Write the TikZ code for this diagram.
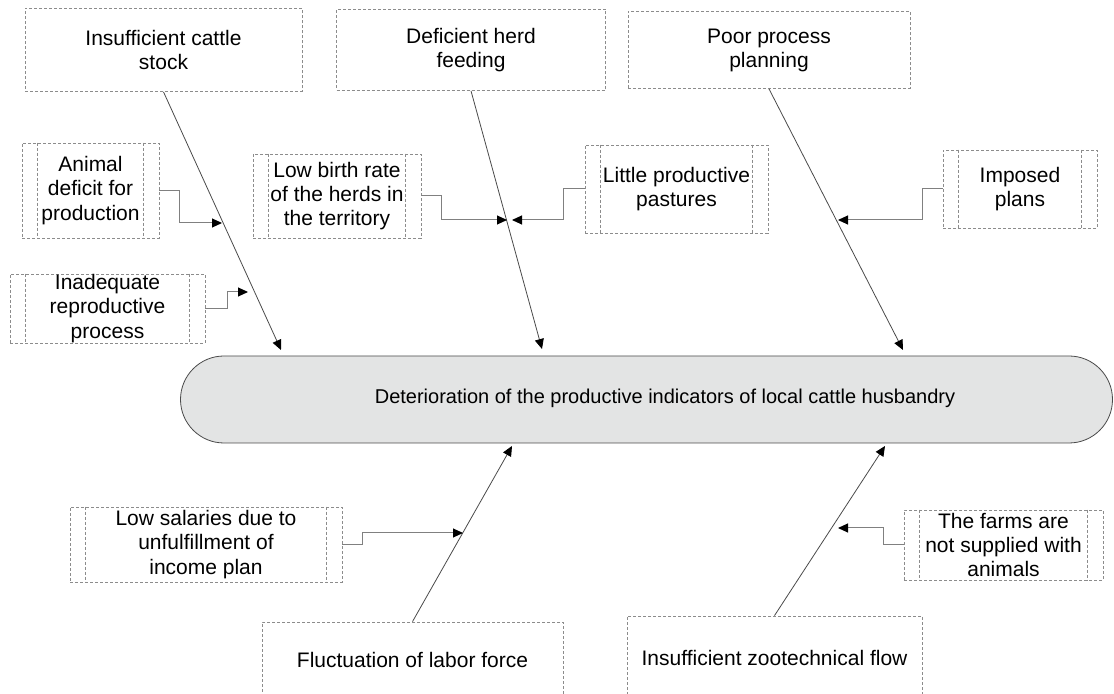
\documentclass[tikz,border=0pt]{standalone}
\usepackage{fontspec}
\setmainfont{Liberation Sans}
\usetikzlibrary{positioning,calc,arrows.meta,shapes.misc}
\definecolor{boxgray}{HTML}{8C8C8C}
\definecolor{bonegray}{HTML}{4A4A4A}
\definecolor{effectfill}{HTML}{E3E4E4}
\tikzset{causebox/.style={draw=boxgray,dash pattern=on 1.5pt off 1pt,line width=0.4pt,align=center,inner sep=0pt,font=\fontsize{10.5}{12}\selectfont}  }
\tikzset{subbox/.style={causebox,font=\fontsize{10.5}{12.2}\selectfont}  }
\tikzset{innerline/.style={draw=boxgray,dash pattern=on 1.5pt off 1pt,line width=0.4pt}  }
\tikzset{effectbox/.style={draw=bonegray,fill=effectfill,rounded rectangle,minimum width=466pt,minimum height=43.5pt,inner sep=0pt}  }
\tikzset{bone/.style={draw=bonegray,line width=0.4pt,-{Triangle[length=5pt,width=4.5pt,color=black]}}  }
\tikzset{conn/.style={draw=gray,line width=0.5pt,-{Triangle[length=5pt,width=4.5pt,color=black]}}  }

\begin{document}
\begin{tikzpicture}[x=0.5pt,y=-0.5pt]
	\useasboundingbox (0,0) rectangle (1114,694);
	\clip (0,0) rectangle (1114,694);

	% effect
	\node[effectbox] (effect) at (646.5,399.5) {};
	\node[font=\fontsize{10}{12}\selectfont] (effecttext) at (665,398) {Deterioration of the productive indicators of local cattle husbandry};

	% main causes
	\node[causebox,minimum width=138.5pt,minimum height=41.5pt] (c1) at (163.5,50) {Insufficient cattle\\stock};
	\node[causebox,minimum width=134.5pt,minimum height=40.5pt] (c2) at (471,50) {Deficient herd\\feeding};
	\node[causebox,minimum width=141pt,minimum height=38.5pt] (c3) at (769,50) {Poor process\\planning};
	\node[causebox,minimum width=150.5pt,minimum height=38pt] (c4) at (412.5,660) {Fluctuation of labor force};
	\node[causebox,minimum width=147.5pt,minimum height=42pt] (c5) at (774.5,658) {Insufficient zootechnical flow};

	% secondary causes
	\node[subbox,minimum width=68.5pt,minimum height=47.5pt] (s1) at (90.5,190.5) {Animal\\deficit for\\production};
	\node[subbox,minimum width=97.5pt,minimum height=34.5pt] (s2) at (107.5,308.5) {Inadequate\\reproductive\\process};
	\node[subbox,minimum width=84pt,minimum height=42pt] (s3) at (337,196) {Low birth rate\\of the herds in\\the territory};
	\node[subbox,minimum width=91.5pt,minimum height=44pt] (s4) at (676.5,189) {Little productive\\pastures};
	\node[subbox,minimum width=77pt,minimum height=39pt] (s5) at (1020,189) {Imposed\\plans};
	\node[subbox,minimum width=136pt,minimum height=37.5pt] (s6) at (206,544.5) {Low salaries due to\\unfulfillment of\\income plan};
	\node[subbox,minimum width=99.5pt,minimum height=35pt] (s7) at (1003.5,545) {The farms are\\not supplied with\\animals};

	\foreach \s in {s1,s2,s3,s4,s5,s6,s7}
		\draw[innerline] ([xshift=8pt]\s.north west) -- ([xshift=8pt]\s.south west)
			([xshift=-8pt]\s.north east) -- ([xshift=-8pt]\s.south east);

	% bone tips
	\coordinate (t1) at (281,350);
	\coordinate (t2) at (542,349);
	\coordinate (t3) at (903,350);
	\coordinate (t4) at (512,446);
	\coordinate (t5) at (885,446);

	\draw[bone] (c1.south) -- (t1);
	\draw[bone] (c2.south) -- (t2);
	\draw[bone] (c3.south) -- (t3);
	\draw[bone] (c4.north) -- (t4);
	\draw[bone] (c5.north) -- (t5);

	% joints on the bones
	\coordinate (j1) at (222,223);
	\coordinate (j2) at (248,292);
	\coordinate (j3) at (507,220);
	\coordinate (j4) at (512,220);
	\coordinate (j5) at (838,220);
	\coordinate (j6) at (463,533);
	\coordinate (j7) at (838,528);

	\draw[conn] (s1.east) -- ++(20,0) |- (j1);
	\draw[conn] (s2.east) -- ++(22,0) |- (j2);
	\draw[conn] (s3.east) -- ++(20,0) |- (j3);
	\draw[conn] (s4.west) -- ++(-21,0) |- (j4);
	\draw[conn] (s5.west) -- ++(-20,0) |- (j5);
	\draw[conn] (s6.east) -- ++(20,0) |- (j6);
	\draw[conn] (s7.west) -- ++(-20,0) |- (j7);
\end{tikzpicture}
\end{document}
